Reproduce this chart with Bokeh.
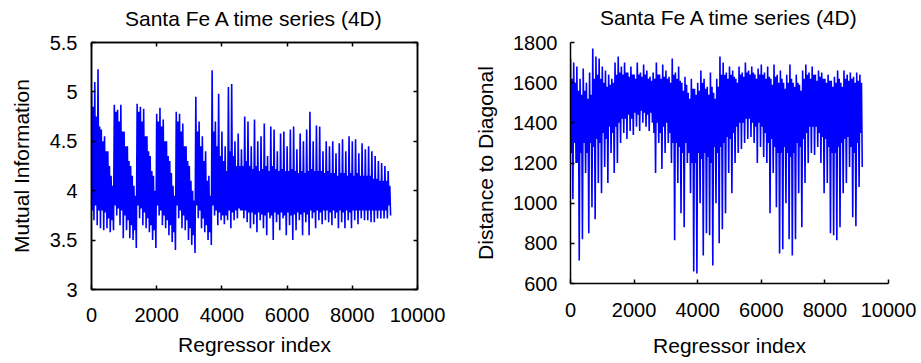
import numpy as np
from bokeh.plotting import figure
from bokeh.layouts import row
from bokeh.models import LinearAxis, Range1d, FixedTicker
from bokeh.embed import file_html
from bokeh.resources import INLINE

TITLE = "Santa Fe A time series (4D)"
X_LABEL = "Regressor index"
Y_LABEL_MI = "Mutual Information"
Y_LABEL_DD = "Distance to Diagonal"
X_TICKS = [0, 2000, 4000, 6000, 8000, 10000]
MI_TICKS = [3, 3.5, 4, 4.5, 5, 5.5]
DD_TICKS = [600, 800, 1000, 1200, 1400, 1600, 1800]
STEP = 25  # regressor indices between successive plotted samples

# Mutual information, read per block of 100 regressors:
# block maximum, top of the dense band, bottom of the dense band, block minimum
mi_peak = [5.00, 5.10, 5.23, 4.62, 4.55, 4.40, 4.15,
           4.87, 4.82, 4.87, 4.60, 4.45, 4.25, 4.05,
           4.88, 4.85, 4.83, 4.55, 4.35, 4.15,
           4.78, 4.84, 4.72, 4.50, 4.30, 4.05,
           4.80, 4.78, 4.68, 4.45, 4.25, 4.00,
           4.95, 4.70, 4.55, 4.40, 4.15,
           5.22, 4.70, 4.98, 4.60, 4.45, 5.05, 5.08, 4.50, 4.58,
           4.42, 4.75, 4.70, 4.45, 4.72, 4.50, 4.55, 4.68, 4.35, 4.65,
           4.62, 4.40, 4.58, 4.60, 4.45, 4.62, 4.65, 4.42, 4.58, 4.50,
           4.62, 4.80, 4.50, 4.66, 4.65, 4.40, 4.50, 4.45, 4.50, 4.38,
           4.48, 4.52, 4.40, 4.55, 4.50, 4.52, 4.38, 4.48, 4.42, 4.45,
           4.40, 4.35, 4.30, 4.28, 4.25, 4.20]
mi_band_top = [4.85, 4.75, 4.65, 4.50, 4.40, 4.25, 4.05,
               4.80, 4.70, 4.60, 4.45, 4.30, 4.15, 3.95,
               4.80, 4.70, 4.55, 4.40, 4.20, 4.00,
               4.70, 4.65, 4.50, 4.35, 4.18, 3.95,
               4.70, 4.60, 4.45, 4.30, 4.10, 3.90,
               4.60, 4.45, 4.30, 4.10, 3.95,
               4.60, 4.45, 4.35, 4.30, 4.20, 4.40, 4.35, 4.25, 4.25,
               4.25, 4.30, 4.25, 4.22, 4.25, 4.20, 4.22, 4.25, 4.20, 4.25,
               4.22, 4.20, 4.22, 4.20, 4.20, 4.22, 4.20, 4.18, 4.20, 4.18,
               4.20, 4.22, 4.20, 4.20, 4.20, 4.18, 4.20, 4.18, 4.18, 4.15,
               4.18, 4.18, 4.15, 4.18, 4.15, 4.18, 4.15, 4.15, 4.15, 4.15,
               4.12, 4.12, 4.10, 4.10, 4.10, 4.05]
mi_band_bottom = [3.80, 3.85, 3.80, 3.80, 3.78, 3.72, 3.70,
                  3.85, 3.82, 3.80, 3.75, 3.70, 3.65, 3.60,
                  3.85, 3.82, 3.78, 3.72, 3.65, 3.60,
                  3.85, 3.80, 3.75, 3.70, 3.65, 3.58,
                  3.85, 3.80, 3.75, 3.70, 3.62, 3.55,
                  3.85, 3.80, 3.72, 3.65, 3.58,
                  3.85, 3.80, 3.78, 3.75, 3.75, 3.80, 3.78, 3.80, 3.82,
                  3.80, 3.80, 3.78, 3.78, 3.76, 3.78, 3.76, 3.75, 3.78, 3.75,
                  3.78, 3.76, 3.78, 3.75, 3.78, 3.75, 3.76, 3.78, 3.76, 3.78,
                  3.76, 3.80, 3.78, 3.80, 3.78, 3.80, 3.80, 3.78, 3.80, 3.78,
                  3.80, 3.78, 3.80, 3.78, 3.80, 3.80, 3.80, 3.80, 3.80, 3.80,
                  3.80, 3.80, 3.80, 3.80, 3.80, 3.85]
mi_trough = [3.70, 3.65, 3.62, 3.60, 3.62, 3.58, 3.60,
             3.75, 3.65, 3.52, 3.60, 3.52, 3.50, 3.42,
             3.72, 3.65, 3.62, 3.58, 3.50, 3.42,
             3.75, 3.65, 3.62, 3.55, 3.48, 3.40,
             3.72, 3.62, 3.60, 3.50, 3.45, 3.37,
             3.72, 3.62, 3.58, 3.50, 3.45,
             3.75, 3.65, 3.70, 3.66, 3.70, 3.62, 3.70, 3.72, 3.80,
             3.72, 3.68, 3.62, 3.66, 3.58, 3.70, 3.62, 3.55, 3.72, 3.50,
             3.68, 3.60, 3.72, 3.55, 3.65, 3.50, 3.60, 3.70, 3.55, 3.68,
             3.55, 3.72, 3.62, 3.70, 3.66, 3.70, 3.68, 3.65, 3.72, 3.62,
             3.68, 3.62, 3.70, 3.62, 3.70, 3.66, 3.72, 3.70, 3.70, 3.68,
             3.68, 3.72, 3.72, 3.72, 3.72, 3.75]

# Distance to diagonal, read per block of 100 regressors (same four levels)
dd_peak = [1720, 1700, 1680, 1620, 1670, 1600, 1650, 1770, 1730, 1720,
           1680, 1660, 1640, 1620, 1700, 1730, 1680, 1700, 1650, 1680,
           1640, 1700, 1650, 1690, 1660, 1630, 1650, 1700, 1640, 1690,
           1660, 1630, 1720, 1650, 1680, 1600, 1630, 1550, 1620, 1570,
           1600, 1660, 1620, 1580, 1650, 1550, 1620, 1730, 1700, 1650,
           1680, 1660, 1620, 1680, 1650, 1700, 1660, 1680, 1640, 1670,
           1690, 1650, 1680, 1620, 1690, 1640, 1660, 1600, 1640, 1690,
           1600, 1640, 1590, 1660, 1690, 1650, 1680, 1640, 1660, 1650,
           1620, 1640, 1610, 1630, 1660, 1600, 1660, 1640, 1650, 1630,
           1650, 1640]
dd_band_top = [1620, 1600, 1560, 1540, 1560, 1520, 1540, 1620, 1640, 1620,
               1600, 1580, 1590, 1600, 1640, 1650, 1640, 1650, 1630, 1640,
               1620, 1640, 1630, 1640, 1620, 1610, 1620, 1640, 1620, 1630,
               1620, 1600, 1640, 1620, 1610, 1560, 1590, 1520, 1570, 1540,
               1560, 1600, 1570, 1540, 1580, 1520, 1580, 1640, 1640, 1620,
               1640, 1630, 1600, 1640, 1630, 1650, 1640, 1650, 1620, 1640,
               1640, 1620, 1630, 1590, 1630, 1600, 1620, 1570, 1600, 1620,
               1580, 1600, 1560, 1620, 1640, 1620, 1640, 1610, 1630, 1620,
               1600, 1610, 1580, 1600, 1620, 1580, 1620, 1610, 1620, 1600,
               1610, 1600]
dd_band_bottom = [1250, 1300, 1200, 1250, 1300, 1250, 1300, 1280, 1320, 1300,
                  1350, 1320, 1380, 1350, 1380, 1400, 1420, 1420, 1440, 1420,
                  1450, 1440, 1460, 1450, 1440, 1450, 1350, 1400, 1350, 1380,
                  1400, 1350, 1300, 1300, 1280, 1250, 1300, 1250, 1200, 1200,
                  1250, 1220, 1250, 1230, 1200, 1280, 1250, 1280, 1300, 1330,
                  1320, 1350, 1380, 1400, 1400, 1420, 1420, 1400, 1380, 1400,
                  1380, 1350, 1300, 1320, 1280, 1250, 1250, 1280, 1250, 1230,
                  1250, 1300, 1280, 1320, 1350, 1380, 1380, 1380, 1350, 1330,
                  1320, 1280, 1250, 1250, 1280, 1300, 1320, 1330, 1280, 1250,
                  1300, 1350]
dd_trough = [1020, 1200, 715, 820, 1150, 850, 980, 920, 1100, 1050,
             1180, 1100, 1250, 1150, 1200, 1300, 1350, 1320, 1360, 1340,
             1380, 1360, 1400, 1380, 1360, 1400, 1150, 1300, 1170, 1250,
             1300, 1200, 815, 1100, 950, 880, 1200, 1050, 660, 650,
             1000, 740, 850, 840, 690, 1000, 800, 870, 950, 1150,
             1050, 1200, 1250, 1270, 1300, 1320, 1330, 1300, 1200, 1280,
             1230, 1200, 950, 1150, 980, 750, 770, 1000, 820, 740,
             820, 1050, 880, 1100, 1200, 1250, 1240, 1280, 1200, 1050,
             1100, 850, 840, 815, 880, 1050, 1100, 1180, 930, 885,
             1080, 1180]


def trace(peak, band_top, band_bottom, trough):
    vals = []
    for a, b, c, d in zip(peak, band_bottom, band_top, trough):
        vals += [a, b, c, d]
    return np.arange(len(vals)) * STEP, np.array(vals)


FONT = "Liberation Sans"
BLUE = "#0000ff"


def style_axis(ax, ticks, show_labels=True, standoff=0, label=None, label_standoff=0):
    ax.ticker = FixedTicker(ticks=ticks)
    ax.major_tick_in = 4
    ax.major_tick_out = 0
    ax.minor_tick_in = 0
    ax.minor_tick_out = 0
    ax.major_tick_line_color = "black"
    ax.major_tick_line_width = 1.5
    ax.axis_line_color = "black"
    ax.axis_line_width = 1.5
    ax.major_label_text_font = FONT
    if show_labels:
        ax.major_label_text_font_size = "20px"
        ax.major_label_text_color = "black"
        ax.major_label_standoff = standoff
    else:
        ax.major_label_text_font_size = "0px"
        ax.major_label_text_color = None
        ax.major_label_standoff = 0
    if label is not None:
        ax.axis_label = label
        ax.axis_label_standoff = label_standoff
        ax.axis_label_text_font = FONT
        ax.axis_label_text_font_size = "21px"
        ax.axis_label_text_font_style = "normal"
        ax.axis_label_text_color = "black"


def make_fig(fw, fh, yr, bl, br, bt):
    p = figure(frame_width=fw, frame_height=fh, output_backend="svg", toolbar_location=None,
               x_range=Range1d(0, 10000), y_range=Range1d(*yr),
               min_border_left=bl, min_border_right=br,
               min_border_top=bt, min_border_bottom=0, title=None)
    p.xgrid.visible = False
    p.ygrid.visible = False
    return p


# ---- left panel: mutual information (boxed, ticks on all four sides) ----
x1, y1 = trace(mi_peak, mi_band_top, mi_band_bottom, mi_trough)
p1 = make_fig(326, 247, (3, 5.5), 91, 29, 40)
p1.line(x1, y1, line_color=BLUE, line_width=1.6)
p1.outline_line_color = "black"
p1.outline_line_width = 1.5
style_axis(p1.xaxis[0], X_TICKS, standoff=18, label=X_LABEL, label_standoff=8)
style_axis(p1.yaxis[0], MI_TICKS, standoff=14, label=Y_LABEL_MI, label_standoff=14)
top_ax = LinearAxis()
style_axis(top_ax, X_TICKS, show_labels=False, label=TITLE, label_standoff=13)
p1.add_layout(top_ax, "above")
right_ax = LinearAxis()
style_axis(right_ax, MI_TICKS, show_labels=False)
p1.add_layout(right_ax, "right")

# ---- right panel: distance to diagonal (left and bottom axes only) ----
x2, y2 = trace(dd_peak, dd_band_top, dd_band_bottom, dd_trough)
p2 = make_fig(318, 241, (600, 1800), 124, 32, 42)
p2.line(x2, y2, line_color=BLUE, line_width=1.6)
p2.outline_line_color = None
style_axis(p2.xaxis[0], X_TICKS, standoff=19, label=X_LABEL, label_standoff=14)
style_axis(p2.yaxis[0], DD_TICKS, standoff=13, label=Y_LABEL_DD, label_standoff=13)
title_ax = LinearAxis()
style_axis(title_ax, [], show_labels=False, label=TITLE, label_standoff=14)
title_ax.axis_line_color = None
title_ax.major_tick_line_color = None
p2.add_layout(title_ax, "above")

layout = row(p1, p2)
open("out.html", "w").write(file_html(layout, INLINE))
